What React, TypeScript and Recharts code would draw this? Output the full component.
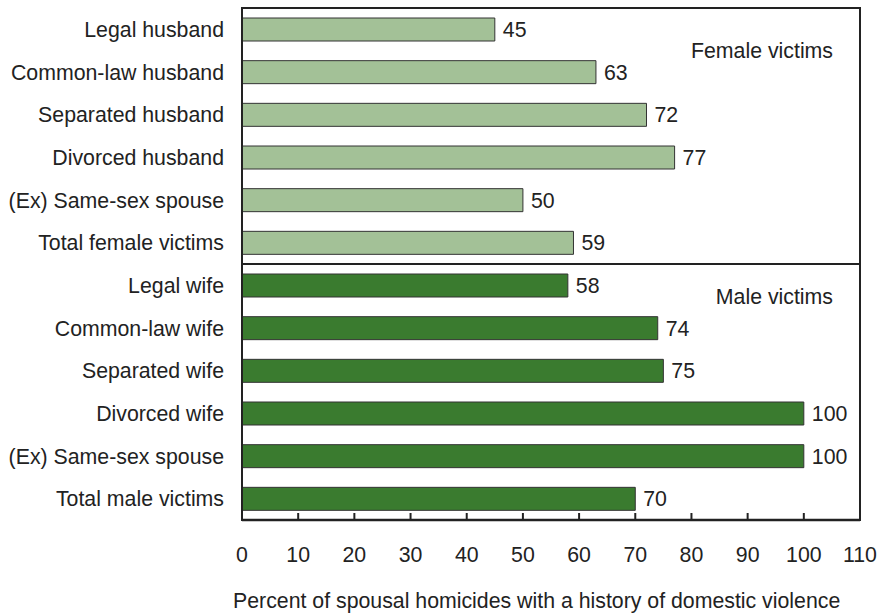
import React from 'react';
import { BarChart, Bar, XAxis, YAxis, Cell, LabelList, ReferenceArea } from 'recharts';

const FEMALE_CATEGORIES = [
  'Legal husband',
  'Common-law husband',
  'Separated husband',
  'Divorced husband',
  '(Ex) Same-sex spouse',
  'Total female victims',
];
const FEMALE_VALUES = [45, 63, 72, 77, 50, 59];

const MALE_CATEGORIES = [
  'Legal wife',
  'Common-law wife',
  'Separated wife',
  'Divorced wife',
  '(Ex) Same-sex spouse',
  'Total male victims',
];
const MALE_VALUES = [58, 74, 75, 100, 100, 70];

const X_TICKS = [0, 10, 20, 30, 40, 50, 60, 70, 80, 90, 100, 110];

const LIGHT = '#a3c197';
const DARK = '#3a7b2f';
const INK = '#222';
const FS = 21.3;

// keys must be unique ("(Ex) Same-sex spouse" shows up twice)
const rows = [
  ...FEMALE_CATEGORIES.map((label, i) => ({ key: `f:${label}`, label, value: FEMALE_VALUES[i], group: 'female' })),
  ...MALE_CATEGORIES.map((label, i) => ({ key: `m:${label}`, label, value: MALE_VALUES[i], group: 'male' })),
];

const labelOf = (key: string) => key.slice(2);

const XTick = (props: any) => {
  const { x, y, payload } = props;
  return (
    <g>
      <line x1={x} x2={x} y1={y - 7} y2={y} stroke={INK} strokeWidth={2} />
      <text x={x} y={y + 42} textAnchor="middle" fill={INK} fontSize={FS}>
        {payload.value}
      </text>
    </g>
  );
};

const AxisTitle = (props: any) => {
  const { viewBox } = props;
  return (
    <text x={viewBox.x - 9} y={viewBox.y + 88} textAnchor="start" fill={INK} fontSize={FS}>
      Percent of spousal homicides with a history of domestic violence
    </text>
  );
};

const BoxTitle = (props: any) => {
  const { viewBox, text, dy } = props;
  return (
    <text x={viewBox.x + viewBox.width - 27} y={viewBox.y + dy} textAnchor="end" fill={INK} fontSize={FS}>
      {text}
    </text>
  );
};

export default function App() {
  return (
    <div style={{ position: 'absolute', left: 0, top: 0, fontFamily: '"Liberation Sans", Arial, sans-serif' }}>
      <BarChart
        width={877}
        height={614}
        data={rows}
        layout="vertical"
        margin={{ top: 8, right: 17, bottom: 0, left: 0 }}
        barSize={23}
      >
        <XAxis
          type="number"
          domain={[0, 110]}
          ticks={X_TICKS}
          interval={0}
          height={94}
          tickSize={0}
          tickMargin={0}
          tickLine={false}
          axisLine={{ stroke: INK, strokeWidth: 2.5 }}
          tick={<XTick />}
          label={<AxisTitle />}
        />
        <YAxis
          type="category"
          dataKey="key"
          width={242}
          tickSize={0}
          tickMargin={18}
          tickLine={false}
          axisLine={{ stroke: INK, strokeWidth: 2 }}
          tick={{ fill: INK, fontSize: FS }}
          tickFormatter={labelOf}
          interval={0}
        />
        <ReferenceArea
          y1="f:Legal husband"
          y2="f:Total female victims"
          fill="none"
          stroke={INK}
          strokeWidth={2}
          label={<BoxTitle text="Female victims" dy={50} />}
        />
        <ReferenceArea
          y1="m:Legal wife"
          y2="m:Total male victims"
          fill="none"
          stroke={INK}
          strokeWidth={2}
          label={<BoxTitle text="Male victims" dy={40} />}
        />
        <Bar dataKey="value" stroke="#333" strokeWidth={1} isAnimationActive={false}>
          {rows.map((r) => (
            <Cell key={r.key} fill={r.group === 'female' ? LIGHT : DARK} />
          ))}
          <LabelList dataKey="value" position="right" offset={8} fill={INK} fontSize={FS} />
        </Bar>
      </BarChart>
    </div>
  );
}
